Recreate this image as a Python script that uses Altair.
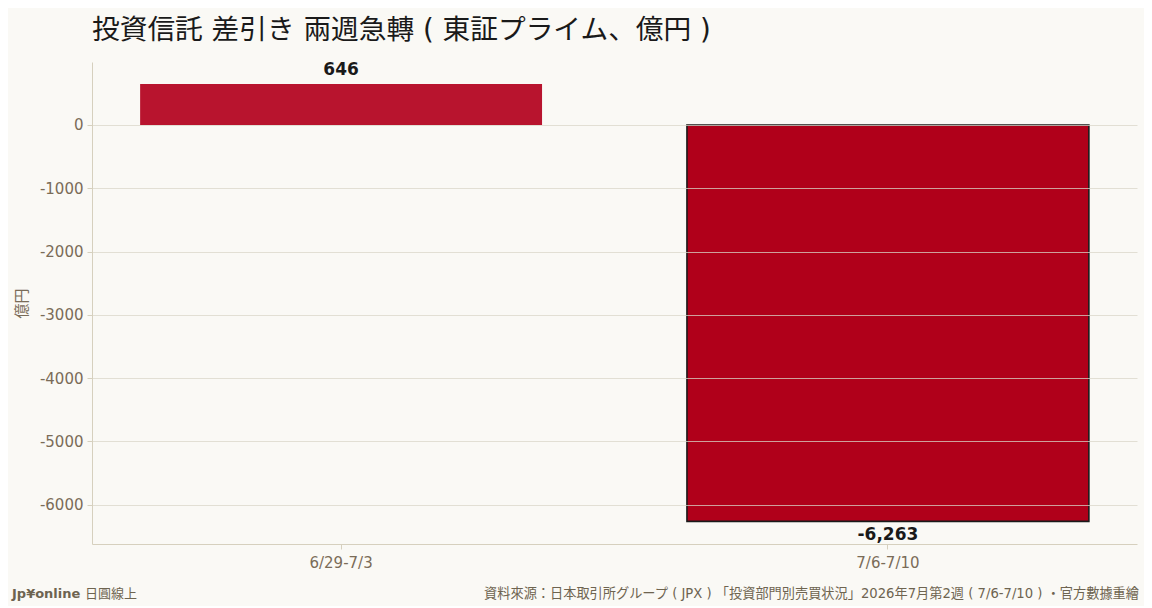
import altair as alt
import pandas as pd

weeks = ["6/29-7/3", "7/6-7/10"]
values = [646, -6263]
bar_colors = ["#B8142E", "#B0001A"]
stroke_widths = [0, 1.6]
y_ticks = [0, -1000, -2000, -3000, -4000, -5000, -6000]

title_text = "投資信託 差引き 兩週急轉 ( 東証プライム、億円 )"
y_title = "億円"
footer_brand = "Jp¥online"
footer_brand2 = "日圓線上"
footer_source = "資料來源：日本取引所グループ ( JPX ) 「投資部門別売買状況」2026年7月第2週 ( 7/6-7/10 ) ・官方數據重繪"

df = pd.DataFrame({
    "week": weeks,
    "value": values,
    "color": bar_colors,
    "sw": stroke_widths,
    "label": [f"{v:,}" for v in values],
})

BG = "#FAF9F5"
AXIS = "#D6D0BE"
TXT = "#7A6C58"
MIX = "DejaVu Sans, Noto Sans CJK JP"

x = alt.X("week:N", sort=weeks, title=None,
          scale=alt.Scale(paddingInner=0.265, paddingOuter=0.088),
          axis=alt.Axis(labelAngle=0, labelFontSize=15, labelColor=TXT, labelFont="DejaVu Sans",
                        domainColor=AXIS, tickColor=AXIS, tickSize=5, labelPadding=6, grid=False))
y = alt.Y("value:Q", title=y_title,
          scale=alt.Scale(domain=[-6620, 995], nice=False, zero=False),
          axis=alt.Axis(values=y_ticks, labelExpr="datum.value + ''", labelFontSize=15,
                        labelColor=TXT, labelFont="DejaVu Sans", domainColor=AXIS, tickColor=AXIS,
                        tickSize=5, labelPadding=4, gridColor="#DAD6C8", gridOpacity=0.75, zindex=1,
                        titleFont="Noto Sans CJK JP", titleFontSize=15, titleFontWeight="normal",
                        titleColor=TXT, titlePadding=10))

bars = alt.Chart(df).mark_bar(stroke="#1A1A1A").encode(
    x=x, y=y,
    color=alt.Color("color:N", scale=None),
    strokeWidth=alt.StrokeWidth("sw:Q", scale=None),
)

lab_pos = alt.Chart(df).transform_filter("datum.value >= 0").mark_text(
    baseline="bottom", dy=-5, fontSize=17, fontWeight="bold", font="DejaVu Sans", color="#1A1A1A"
).encode(x=alt.X("week:N", sort=weeks), y="value:Q", text="label:N")

lab_neg = alt.Chart(df).transform_filter("datum.value < 0").mark_text(
    baseline="top", dy=6, fontSize=17, fontWeight="bold", font="DejaVu Sans", color="#1A1A1A"
).encode(x=alt.X("week:N", sort=weeks), y="value:Q", text="label:N")

foot_df = pd.DataFrame({"a": [footer_brand], "b": [footer_brand2], "c": [footer_source]})

f1 = alt.Chart(foot_df).mark_text(align="left", baseline="middle", fontSize=13, fontWeight="bold",
                                  font="DejaVu Sans", color="#6E6450").encode(
    x=alt.value(-80), y=alt.value(532), text="a:N")
f2 = alt.Chart(foot_df).mark_text(align="left", baseline="middle", fontSize=13,
                                  font="Noto Sans CJK JP", color="#6E6450").encode(
    x=alt.value(-7), y=alt.value(532), text="b:N")
f3 = alt.Chart(foot_df).mark_text(align="right", baseline="middle", fontSize=13.2,
                                  font=MIX, color="#6E6450").encode(
    x=alt.value(1047), y=alt.value(532), text="c:N")

chart = alt.layer(bars, lab_pos, lab_neg, f1, f2, f3).properties(
    width=1045, height=482,
    title=alt.TitleParams(title_text, anchor="start", frame="group", fontSize=27.7,
                          font=MIX, fontWeight="normal", color="#1A1A1A", offset=16),
    background=BG,
    padding={"left": 84, "top": 54, "right": 7, "bottom": 62},
    autosize=alt.AutoSizeParams(type="none"),
).configure_view(stroke=None).configure_axisY(domainColor=AXIS)

chart.save("out.html", embed_options={"renderer": "svg", "actions": False})
